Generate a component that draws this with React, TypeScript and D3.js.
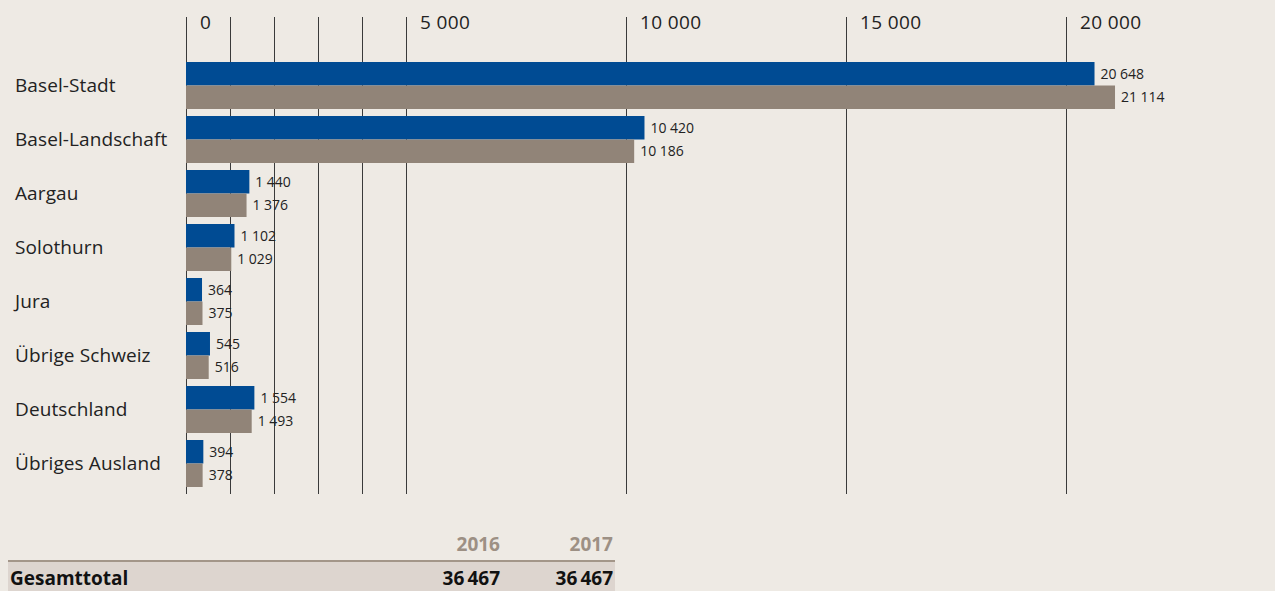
import React from 'react';
import * as d3 from 'd3';

const categories = [
  'Basel-Stadt',
  'Basel-Landschaft',
  'Aargau',
  'Solothurn',
  'Jura',
  'Übrige Schweiz',
  'Deutschland',
  'Übriges Ausland',
];
const years = ['2016', '2017'];
const values2016 = [20648, 10420, 1440, 1102, 364, 545, 1554, 394];
const values2017 = [21114, 10186, 1376, 1029, 375, 516, 1493, 378];
const gridTicks = [0, 1000, 2000, 3000, 4000, 5000, 10000, 15000, 20000];
const labelTicks = [0, 5000, 10000, 15000, 20000];
const totalLabel = 'Gesamttotal';

const W = 1275;
const H = 591;
const FONT = '"Open Sans", "Noto Sans", sans-serif';
const BG = '#EEEAE4';
const BLUE = '#004B93';
const GREY = '#918478';

const locale = d3.formatLocale({ decimal: '.', thousands: '\u2005', grouping: [3], currency: ['', ''] });
const fmt = locale.format(',d');
const fmtTotal = d3.formatLocale({ decimal: '.', thousands: '\u2009', grouping: [3], currency: ['', ''] }).format(',d');

const App: React.FC = () => {
  const x = d3.scaleLinear().domain([0, 20000]).range([186, 1066]);
  const y = d3.scaleBand<string>().domain(categories).range([58.5, 490.5]).paddingInner(7 / 54).paddingOuter(3.5 / 54);
  const ySub = d3.scaleBand<string>().domain(years).range([0, y.bandwidth()]);
  const series = [values2016, values2017];
  const colors = d3.scaleOrdinal<string, string>().domain(years).range([BLUE, GREY]);
  const totals = series.map(s => d3.sum(s));

  return (
    <svg width={W} height={H} style={{ position: 'absolute', left: 0, top: 0, background: BG, fontFamily: FONT }}>
      <rect width={W} height={H} fill={BG} />
      {/* grid */}
      {gridTicks.map(t => (
        <line key={t} x1={x(t)} x2={x(t)} y1={17} y2={494} stroke="#3a3a3a" strokeWidth={1} shapeRendering="crispEdges" />
      ))}
      {labelTicks.map(t => (
        <text key={t} x={x(t) + 14} y={29} fontSize={19} letterSpacing={0.4} fill="#222">{fmt(t)}</text>
      ))}
      {/* bars */}
      {categories.map((c, i) => (
        <g key={c} transform={`translate(0,${y(c)})`}>
          <text x={15} y={y.bandwidth() / 2} dy="0.35em" fontSize={19} letterSpacing={0.1} fill="#222">{c}</text>
          {years.map((yr, j) => {
            const v = series[j][i];
            return (
              <g key={yr}>
                <rect x={x(0)} y={ySub(yr)} width={x(v) - x(0)} height={ySub.bandwidth()} fill={colors(yr)} />
                <text x={x(v) + 6} y={(ySub(yr) ?? 0) + ySub.bandwidth() / 2} dy="0.35em" fontSize={14} fill="#222">{fmt(v)}</text>
              </g>
            );
          })}
        </g>
      ))}
      {/* totals table */}
      <rect x={8} y={562} width={607} height={29} fill="#DDD5CF" />
      <line x1={8} x2={615} y1={561} y2={561} stroke="#A39689" strokeWidth={2} />
      {years.map((yr, j) => (
        <g key={yr}>
          <text x={j === 0 ? 500 : 613} y={551} textAnchor="end" fontSize={19} fontWeight="bold" fill="#9D9084">{yr}</text>
          <text x={j === 0 ? 500 : 613} y={585} textAnchor="end" fontSize={19} fontWeight="bold" fill="#111">{fmtTotal(totals[j])}</text>
        </g>
      ))}
      <text x={10} y={585} fontSize={19} fontWeight="bold" fill="#111">{totalLabel}</text>
    </svg>
  );
};

export default App;
